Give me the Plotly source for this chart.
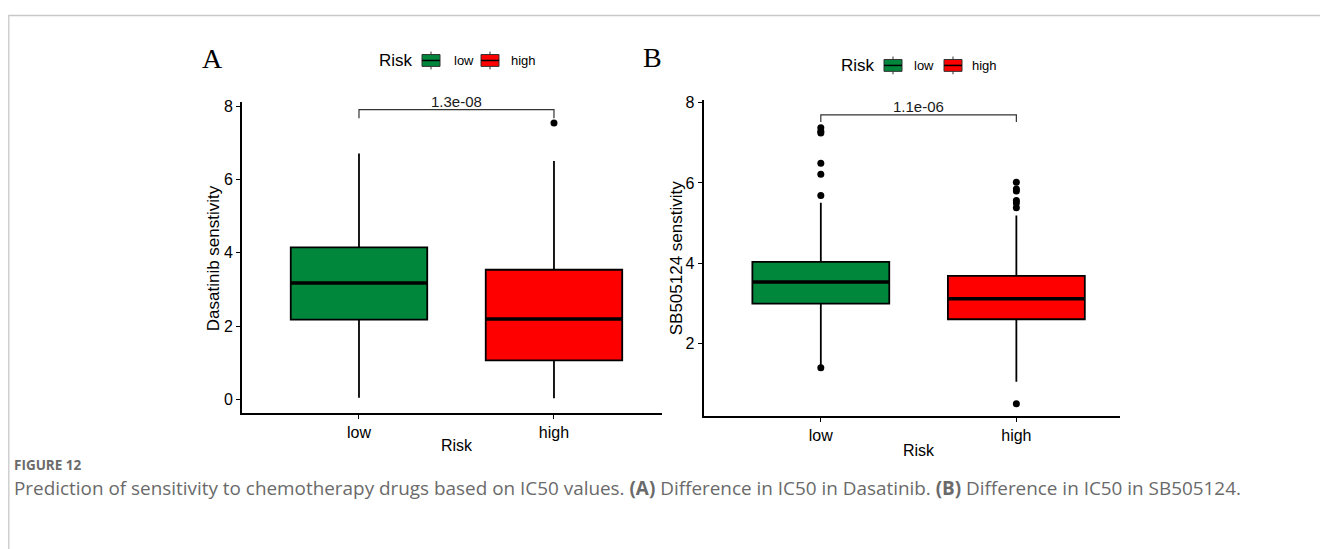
import plotly.graph_objects as go

# page body has an 8px margin, so figure is placed at (8, 8) on the page
OFF = 8
W, H = 1320, 541
def px(x): return (x - OFF) / W
def py(y): return 1 - (y - OFF) / H

categories = ["low", "high"]
colors = ["#00873B", "#FF0000"]

# Panel A: Dasatinib
a_q1 = [2.18, 1.07]
a_median = [3.18, 2.20]
a_q3 = [4.15, 3.54]
a_lower = [0.05, 0.04]
a_upper = [6.71, 6.50]
a_out_low = []
a_out_high = [7.54]
a_p = "1.3e-08"

# Panel B: SB505124
b_q1 = [2.99, 2.60]
b_median = [3.53, 3.11]
b_q3 = [4.03, 3.68]
b_lower = [1.45, 1.04]
b_upper = [5.51, 5.19]
b_out_low = [7.38, 7.29, 7.25, 6.49, 6.22, 5.69, 1.39]
b_out_high = [6.02, 5.85, 5.80, 5.56, 5.50, 5.38, 0.49]
b_p = "1.1e-06"

fig = go.Figure()

BOXW = 0.70
FONT = "Liberation Sans, Arial, sans-serif"

def add_panel(xa, ya, q1, med, q3, lo, up, outs, bracket, p):
    for i, cat in enumerate(categories):
        fig.add_trace(go.Box(
            x=[i], q1=[q1[i]], median=[med[i]], q3=[q3[i]],
            lowerfence=[lo[i]], upperfence=[up[i]],
            width=BOXW, fillcolor=colors[i],
            line=dict(color="black", width=1.8), whiskerwidth=0,
            boxpoints=False, xaxis=xa, yaxis=ya, showlegend=False, hoverinfo="skip"))
        fig.add_trace(go.Scatter(
            x=[i - BOXW / 2, i + BOXW / 2], y=[med[i], med[i]], mode="lines",
            line=dict(color="black", width=3.4), xaxis=xa, yaxis=ya,
            showlegend=False, hoverinfo="skip"))
        if outs[i]:
            fig.add_trace(go.Scatter(
                x=[i] * len(outs[i]), y=outs[i], mode="markers",
                marker=dict(color="black", size=7), xaxis=xa, yaxis=ya,
                showlegend=False, hoverinfo="skip", cliponaxis=False))
    top, end = bracket
    fig.add_trace(go.Scatter(
        x=[0, 0, 1, 1], y=[end, top, top, end], mode="lines",
        line=dict(color="#333333", width=1.2), xaxis=xa, yaxis=ya,
        showlegend=False, hoverinfo="skip", cliponaxis=False))
    fig.add_annotation(x=0.5, y=top, text=p, xref=xa, yref=ya, showarrow=False,
                       yanchor="bottom", yshift=-2,
                       font=dict(family=FONT, size=15, color="#1a1a1a"))

add_panel("x", "y", a_q1, a_median, a_q3, a_lower, a_upper,
          [a_out_low, a_out_high], (7.90, 7.67), a_p)
add_panel("x2", "y2", b_q1, b_median, b_q3, b_lower, b_upper,
          [b_out_low, b_out_high], (7.70, 7.52), b_p)

axis_common = dict(showgrid=False, zeroline=False, showline=True, linecolor="black",
                   linewidth=1.6, ticks="outside", ticklen=4, tickcolor="black",
                   tickwidth=1.4, tickfont=dict(family=FONT, size=16, color="black"))

fig.update_layout(
    width=W, height=H, margin=dict(l=0, r=0, t=0, b=0),
    paper_bgcolor="white", plot_bgcolor="white", showlegend=False,
    xaxis=dict(domain=[px(242), px(662)], range=[-0.6, 1.554], anchor="y",
               tickvals=[0, 1], ticktext=categories, **axis_common),
    yaxis=dict(domain=[py(411.7), py(97)], range=[-0.369, 8.11], anchor="x",
               tickvals=[0, 2, 4, 6, 8], **axis_common),
    xaxis2=dict(domain=[px(703.5), px(1120)], range=[-0.6, 1.53], anchor="y2",
                tickvals=[0, 1], ticktext=categories, **axis_common),
    yaxis2=dict(domain=[py(415), py(95)], range=[0.173, 8.07], anchor="x2",
                tickvals=[2, 4, 6, 8], **axis_common),
)

def txt(x, y, s, size, color="black", family=FONT, angle=0, xanchor="center", bold=False):
    fig.add_annotation(x=px(x), y=py(y), xref="paper", yref="paper", text=(f"<b>{s}</b>" if bold else s),
                       showarrow=False, textangle=angle, xanchor=xanchor, yanchor="middle",
                       font=dict(family=family, size=size, color=color))

# axis titles
txt(457, 444, "Risk", 16)
txt(919, 449, "Risk", 16)
txt(213, 255, "Dasatinib senstivity", 17, angle=-90)
txt(676, 255, "SB505124 senstivity", 17, angle=-90)

# panel letters
txt(212, 53, "A", 28, family="Liberation Serif, Times New Roman, serif")
txt(652, 52, "B", 28, family="Liberation Serif, Times New Roman, serif")

# legends (drawn keys)
def legend(risk_x, y, keys):
    txt(risk_x, y, "Risk", 17)
    for (kx, lx, label), col in zip(keys, colors):
        x0, x1 = kx, kx + 18
        fig.add_shape(type="rect", xref="paper", yref="paper",
                      x0=px(x0), x1=px(x1), y0=py(y + 6), y1=py(y - 6),
                      fillcolor=col, line=dict(color="#333333", width=1))
        fig.add_shape(type="line", xref="paper", yref="paper",
                      x0=px(x0), x1=px(x1), y0=py(y), y1=py(y),
                      line=dict(color="black", width=1.5))
        fig.add_shape(type="line", xref="paper", yref="paper",
                      x0=px(x0 + 9), x1=px(x0 + 9), y0=py(y - 6), y1=py(y - 9),
                      line=dict(color="#333333", width=1))
        fig.add_shape(type="line", xref="paper", yref="paper",
                      x0=px(x0 + 9), x1=px(x0 + 9), y0=py(y + 6), y1=py(y + 9),
                      line=dict(color="#333333", width=1))
        txt(lx, y, label, 13, xanchor="left")

legend(396, 55, [(422, 452, "low"), (481, 509, "high")])
legend(858, 60, [(884, 912, "low"), (944, 970, "high")])

# figure frame
fig.add_shape(type="rect", xref="paper", yref="paper",
              x0=px(8.8), x1=px(1326), y0=py(570), y1=py(9.5),
              line=dict(color="#c8c8c8", width=1.3), fillcolor="rgba(0,0,0,0)", layer="below")

# caption
txt(12, 464, "FIGURE 12", 13.5, color="#6b6b6b", family="Open Sans, sans-serif", xanchor="left", bold=True)
txt(12, 487, "Prediction of sensitivity to chemotherapy drugs based on IC50 values. <b>(A)</b> Difference in IC50 in Dasatinib. <b>(B)</b> Difference in IC50 in SB505124.",
    18.9, color="#6a6a6a", family="Open Sans, sans-serif", xanchor="left")

fig.write_html("out.html")
